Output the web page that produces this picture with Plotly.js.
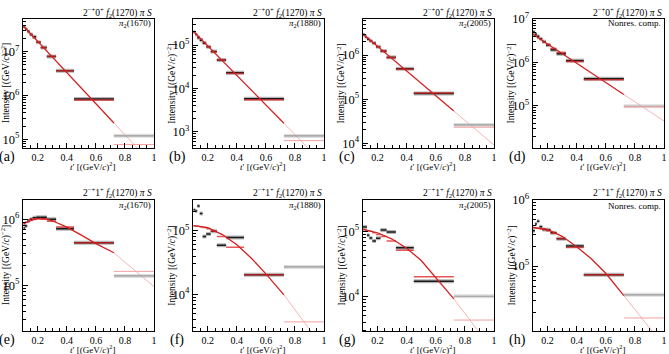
<!DOCTYPE html>
<html><head><meta charset="utf-8">
<script src="https://cdn.plot.ly/plotly-3.0.1.min.js"></script>
<style>html,body{margin:0;padding:0;background:#fff;} #chart{width:669px;height:354px;}</style>
</head><body><div id="chart"></div>
<script>
// t' bin edges [(GeV/c)^2]
const tBinEdges = [0.100, 0.113, 0.127, 0.144, 0.164, 0.189, 0.220, 0.262, 0.326, 0.449, 0.724, 1.000];
const fitRangeEnd = 0.724;

// (a) 2-+0+ f2 pi S, pi2(1670)
const curveX_a = [0.1, 0.724, 1.0];
const curveY_a = [3.9e7, 2.35e5, 2.45e4];
const dataY_a  = [3.7e7, 3.3e7, 2.9e7, 2.5e7, 2.2e7, 1.66e7, 1.26e7, 7.8e6, 3.7e6, 8.3e5, 1.2e5];
const modelY_a = [3.7e7, 3.3e7, 2.9e7, 2.5e7, 2.1e7, 1.66e7, 1.23e7, 7.9e6, 3.7e6, 7.9e5, 7.6e4];
// (b) pi2(1880)
const curveX_b = [0.1, 0.724, 1.0];
const curveY_b = [2.09e5, 1.58e3, 1.8e2];
const dataY_b  = [2.0e5, 1.74e5, 1.48e5, 1.29e5, 1.1e5, 9.1e4, 7.1e4, 4.5e4, 2.3e4, 5.8e3, 8.1e2];
const modelY_b = [2.0e5, 1.78e5, 1.58e5, 1.38e5, 1.15e5, 9.1e4, 6.9e4, 4.6e4, 2.2e4, 5.5e3, 6.3e2];
// (c) pi2(2005)
const curveX_c = [0.1, 0.724, 1.0];
const curveY_c = [3.02e6, 5.37e4, 9.1e3];
const dataY_c  = [2.9e6, 2.6e6, 2.3e6, 2.1e6, 1.86e6, 1.55e6, 1.23e6, 8.9e5, 4.9e5, 1.35e5, 2.6e4];
const modelY_c = [2.9e6, 2.6e6, 2.4e6, 2.1e6, 1.86e6, 1.55e6, 1.23e6, 8.7e5, 4.8e5, 1.38e5, 2.3e4];
// (d) Nonres. comp.
const curveX_d = [0.1, 0.724, 1.0];
const curveY_d = [4.47e6, 1.82e5, 4.5e4];
const dataY_d  = [5.0e6, 4.5e6, 4.0e6, 3.5e6, 3.0e6, 2.5e6, 1.95e6, 1.58e6, 1.1e6, 4.2e5, 9.8e4];
const modelY_d = [4.4e6, 4.1e6, 3.7e6, 3.4e6, 2.95e6, 2.6e6, 2.1e6, 1.7e6, 1.05e6, 4.0e5, 9.5e4];
// (e) 2-+1+ f2 pi S, pi2(1670)
const curveX_e = [0.1, 0.15, 0.2, 0.25, 0.3, 0.4, 0.5, 0.6, 0.724, 0.85, 1.0];
const curveY_e = [8.5e5, 9.5e5, 1.02e6, 1.02e6, 9.5e5, 7.6e5, 5.75e5, 4.27e5, 3.1e5, 1.82e5, 9.5e4];
const dataY_e  = [7.4e5, 7.9e5, 9.3e5, 1.0e6, 1.05e6, 1.07e6, 1.07e6, 1.0e6, 7.2e5, 4.4e5, 1.38e5];
const modelY_e = [8.5e5, 9.1e5, 9.8e5, 1.02e6, 1.02e6, 1.02e6, 1.0e6, 9.3e5, 7.6e5, 4.4e5, 1.62e5];
// (f) pi2(1880)
const curveX_f = [0.1, 0.15, 0.2, 0.3, 0.4, 0.5, 0.6, 0.724, 0.85, 1.0];
const curveY_f = [1.2e5, 1.17e5, 1.12e5, 8.7e4, 6.0e4, 3.7e4, 2.1e4, 9.8e3, 4.2e3, 1.4e3];
const dataY_f  = [2.14e5, 2.04e5, 2.45e5, 1.86e5, 8.1e4, 8.9e4, 9.8e4, 5.9e4, 7.8e4, 2.04e4, 2.7e4];
const modelY_f = [1.2e5, 1.18e5, 1.17e5, 1.15e5, 1.12e5, 1.07e5, 9.8e4, 8.1e4, 5.5e4, 2.04e4, 3.7e3];
// (g) pi2(2005)
const curveX_g = [0.1, 0.15, 0.2, 0.3, 0.4, 0.5, 0.6, 0.724, 0.85, 1.0];
const curveY_g = [1.07e5, 1.02e5, 9.5e4, 7.6e4, 5.5e4, 3.55e4, 1.95e4, 9.1e3, 4.0e3, 1.4e3];
const dataY_g  = [1.17e5, 1.17e5, 8.7e4, 7.9e4, 7.1e4, 7.8e4, 1.05e5, 9.8e4, 5.6e4, 1.7e4, 1.0e4];
const modelY_g = [1.07e5, 1.05e5, 1.02e5, 1.0e5, 9.5e4, 8.9e4, 8.3e4, 7.1e4, 5.1e4, 2.0e4, 4.3e3];
// (h) Nonres. comp.
const curveX_h = [0.1, 0.15, 0.2, 0.3, 0.4, 0.5, 0.6, 0.724, 0.85, 1.0];
const curveY_h = [3.8e5, 3.7e5, 3.55e5, 2.8e5, 1.95e5, 1.29e5, 7.8e4, 3.6e4, 1.66e4, 6.3e3];
const dataY_h  = [3.4e5, 4.3e5, 4.7e5, 3.9e5, 3.55e5, 3.5e5, 3.16e5, 2.57e5, 2.0e5, 7.4e4, 3.7e4];
const modelY_h = [3.8e5, 3.7e5, 3.7e5, 3.6e5, 3.55e5, 3.4e5, 3.1e5, 2.6e5, 1.9e5, 7.4e4, 1.66e4];

const waveLabels = [
  '2<sup>\u2212+</sup>0<sup>+</sup> <i>f</i><sub>2</sub>(1270) <i>\u03c0 S</i>',
  '2<sup>\u2212+</sup>1<sup>+</sup> <i>f</i><sub>2</sub>(1270) <i>\u03c0 S</i>'
];
const componentLabels = ['<i>\u03c0</i><sub>2</sub>(1670)', '<i>\u03c0</i><sub>2</sub>(1880)', '<i>\u03c0</i><sub>2</sub>(2005)', 'Nonres. comp.'];
const panelLetters = ['(a)', '(b)', '(c)', '(d)', '(e)', '(f)', '(g)', '(h)'];
const xTitle = '<i>t</i>\u2032 [(GeV/<i>c</i>)<sup>2</sup>]';
const yTitle = 'Intensity [(GeV/<i>c</i>)<sup>\u22122</sup>]';

const panelData = [
  [curveX_a, curveY_a, dataY_a, modelY_a], [curveX_b, curveY_b, dataY_b, modelY_b],
  [curveX_c, curveY_c, dataY_c, modelY_c], [curveX_d, curveY_d, dataY_d, modelY_d],
  [curveX_e, curveY_e, dataY_e, modelY_e], [curveX_f, curveY_f, dataY_f, modelY_f],
  [curveX_g, curveY_g, dataY_g, modelY_g], [curveX_h, curveY_h, dataY_h, modelY_h]
];

// layout geometry (pixels)
const W = 669, H = 354;
const colPx = [[23.3, 154], [193.3, 324], [363, 494], [533, 664]];
const rowPx = [[19, 148], [199.5, 331.3]];
const yRanges = [[4.8, 7.75], [2.63, 5.6], [3.89, 6.82], [4.03, 7.0], [4.3, 6.3], [3.42, 5.49], [3.46, 5.49], [4.02, 6.0]];
const FONT = 'Liberation Serif, Times New Roman, serif';

function bars(values, from, to) {
  const xs = [], ys = [];
  for (let i = from; i < to; i++) {
    xs.push(tBinEdges[i], tBinEdges[i + 1], null);
    ys.push(values[i], values[i], null);
  }
  return {xs, ys};
}

const traces = [];
const layout = {
  width: W, height: H, margin: {l: 0, r: 0, t: 0, b: 0},
  paper_bgcolor: '#fff', plot_bgcolor: '#fff', showlegend: false,
  font: {family: FONT, size: 10, color: '#000'},
  annotations: []
};

panelData.forEach((p, k) => {
  const [cx, cy, dy, my] = p;
  const col = k % 4, row = Math.floor(k / 4);
  const xa = 'x' + (k === 0 ? '' : k + 1), ya = 'y' + (k === 0 ? '' : k + 1);
  const nb = tBinEdges.length - 1;

  const fx = [], fy = [], sx = [], sy = [];
  cx.forEach((x, i) => {
    if (x <= fitRangeEnd) { sx.push(x); sy.push(cy[i]); }
    if (x >= fitRangeEnd) { fx.push(x); fy.push(cy[i]); }
  });
  traces.push({x: fx, y: fy, xaxis: xa, yaxis: ya, mode: 'lines', line: {color: '#f5b5b5', width: 1}, hoverinfo: 'skip'});

  const dMain = bars(dy, 0, nb - 1), dLast = bars(dy, nb - 1, nb);
  traces.push({x: dMain.xs, y: dMain.ys, xaxis: xa, yaxis: ya, mode: 'lines', line: {color: 'rgba(120,120,120,0.55)', width: 4}, hoverinfo: 'skip'});
  traces.push({x: dLast.xs, y: dLast.ys, xaxis: xa, yaxis: ya, mode: 'lines', line: {color: 'rgba(190,190,190,0.5)', width: 4}, hoverinfo: 'skip'});
  traces.push({x: dMain.xs, y: dMain.ys, xaxis: xa, yaxis: ya, mode: 'lines', line: {color: '#1a1a1a', width: 1.5}, hoverinfo: 'skip'});
  traces.push({x: dLast.xs, y: dLast.ys, xaxis: xa, yaxis: ya, mode: 'lines', line: {color: '#9a9a9a', width: 1.2}, hoverinfo: 'skip'});

  const mMain = bars(my, 0, nb - 1), mLast = bars(my, nb - 1, nb);
  traces.push({x: mMain.xs, y: mMain.ys, xaxis: xa, yaxis: ya, mode: 'lines', line: {color: 'rgba(220,30,30,0.75)', width: 1.5}, hoverinfo: 'skip'});
  traces.push({x: mLast.xs, y: mLast.ys, xaxis: xa, yaxis: ya, mode: 'lines', line: {color: '#f4a0a0', width: 1}, hoverinfo: 'skip'});

  traces.push({x: sx, y: sy, xaxis: xa, yaxis: ya, mode: 'lines', line: {color: '#d42020', width: 1.3}, hoverinfo: 'skip'});

  const [l, r] = colPx[col], [t, b] = rowPx[row];
  layout['xaxis' + (k === 0 ? '' : k + 1)] = {
    domain: [l / W, r / W], anchor: ya, range: [0.1, 1.0], tick0: 0, dtick: 0.2,
    ticks: 'inside', ticklen: 5, tickcolor: '#000', showline: true, mirror: true, linecolor: '#000', linewidth: 1,
    showgrid: false, zeroline: false, tickfont: {family: FONT, size: 10}, ticklabelstandoff: 0,
    minor: {ticks: 'inside', ticklen: 3, dtick: 0.05, tickcolor: '#000', showgrid: false}
  };
  layout['yaxis' + (k === 0 ? '' : k + 1)] = {
    domain: [1 - b / H, 1 - t / H], anchor: xa, type: 'log', range: yRanges[k], dtick: 1,
    exponentformat: 'power', ticks: 'inside', ticklen: 5, tickcolor: '#000',
    showline: true, mirror: true, linecolor: '#000', linewidth: 1, showgrid: false, zeroline: false,
    tickfont: {family: FONT, size: 10}, ticklabelstandoff: 1,
    minor: {ticks: 'inside', ticklen: 3, dtick: 'D1', tickcolor: '#000', showgrid: false}
  };

  const ann = layout.annotations;
  ann.push({xref: 'paper', yref: 'paper', x: r / W, y: 1 - (t - 7) / H, xanchor: 'right', yanchor: 'middle',
    text: waveLabels[row], showarrow: false, font: {family: FONT, size: 9.5}});
  ann.push({xref: 'paper', yref: 'paper', x: (r - 1.5) / W, y: 1 - (t + (row === 0 ? 4.5 : 6)) / H, xanchor: 'right', yanchor: 'middle',
    text: componentLabels[col], showarrow: false, font: {family: FONT, size: 9}});
  ann.push({xref: 'paper', yref: 'paper', x: (l - 16) / W, y: 1 - (b + 9) / H, xanchor: 'center', yanchor: 'middle',
    text: panelLetters[k], showarrow: false, font: {family: FONT, size: 14}});
  ann.push({xref: 'paper', yref: 'paper', x: ((l + r) / 2 + 4) / W, y: 1 - (b + 18) / H, xanchor: 'center', yanchor: 'middle',
    text: xTitle, showarrow: false, font: {family: FONT, size: 9}});
  ann.push({xref: 'paper', yref: 'paper', x: Math.max(l - 22, 5.5) / W, y: 1 - ((t + b) / 2) / H, xanchor: 'center', yanchor: 'middle',
    text: yTitle, textangle: -90, showarrow: false, font: {family: FONT, size: 9.5}});
});

Plotly.newPlot('chart', traces, layout, {staticPlot: true, displayModeBar: false});
</script></body></html>
